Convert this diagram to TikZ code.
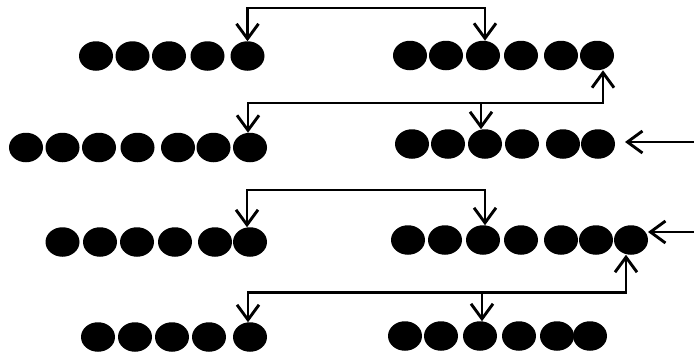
\documentclass[tikz,border=0pt]{standalone}
\usetikzlibrary{shapes.geometric,arrows.meta}
\begin{document}
\begin{tikzpicture}[x=1pt,y=-1pt,
  dot/.style={ellipse,fill=black,draw=none,minimum width=34pt,minimum height=29.5pt,inner sep=0pt,outer sep=0pt},
  conn/.style={line width=2.5pt,line join=miter},
  >={Straight Barb[length=15pt,width=22pt,line width=2.9pt]}]
\useasboundingbox (0,0) rectangle (694,356);
% row 1
\foreach \x [count=\i] in {96,132.5,169,207.5,247.5} \node[dot] (a\i) at (\x,56) {};
\foreach \x [count=\i] in {410,446,483,521,561,597} \node[dot] (b\i) at (\x,55.5) {};
% row 2
\foreach \x [count=\i] in {26,62.5,99,137.5,178,213.5,250} \node[dot] (c\i) at (\x,147.5) {};
\foreach \x [count=\i] in {412,448,485,522,563,598} \node[dot] (d\i) at (\x,144) {};
% row 3
\foreach \x [count=\i] in {62.5,100,137,175,215,250} \node[dot] (e\i) at (\x,242) {};
\foreach \x [count=\i] in {408,445,483,521,561,596,631} \node[dot] (f\i) at (\x,240) {};
% row 4
\foreach \x [count=\i] in {98,135,172,209,250} \node[dot] (g\i) at (\x,337) {};
\foreach \x [count=\i] in {405,441,480,519,557,590} \node[dot] (h\i) at (\x,336) {};
% buses
\coordinate (bus1) at (0,8);
\coordinate (bus2) at (0,103);
\coordinate (bus3) at (0,190);
\coordinate (bus4) at (0,292.5);
\draw[conn,<->] (a5.north) -- (a5.north |- bus1) -| ([xshift=2pt]b3.north);
\draw[conn,<->] ([xshift=-2pt]c7.north) -- ([xshift=-2pt]c7.north |- bus2) -| ([xshift=6pt]b6.south);
\draw[conn,->] ([xshift=-4pt]d3.north |- bus2) -- ([xshift=-4pt]d3.north);
\draw[conn,<->] ([xshift=-3pt]e6.north) -- ([xshift=-3pt]e6.north |- bus3) -| ([xshift=2pt]f3.north);
\draw[conn,<->] ([xshift=-2pt]g5.north) -- ([xshift=-2pt]g5.north |- bus4) -| ([xshift=-5pt]f7.south);
\draw[conn,->] ([xshift=2pt]h3.north |- bus4) -- ([xshift=2pt]h3.north);
% inputs
\coordinate (in1) at (696,142);
\coordinate (in2) at (696,232);
\draw[conn,->] (in1) -- ([xshift=10pt]d6.east |- in1);
\draw[conn,->] (in2) -- (f7.east |- in2);
\end{tikzpicture}
\end{document}
